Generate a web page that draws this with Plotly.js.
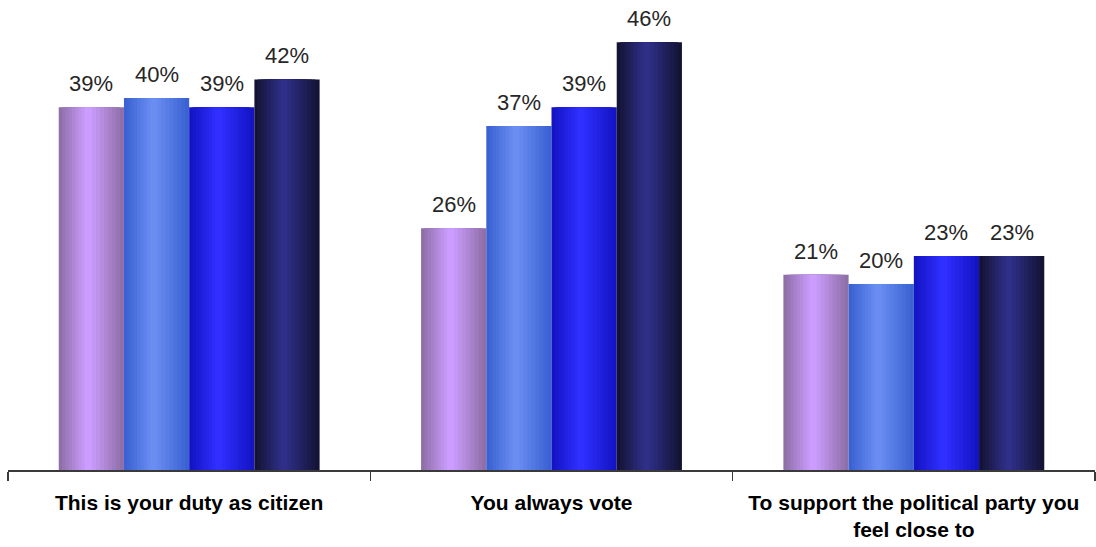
<!DOCTYPE html>
<html>
<head>
<meta charset="utf-8">
<script src="https://cdn.plot.ly/plotly-3.0.1.min.js"></script>
<style>html,body{margin:0;padding:0;background:#fff;}#chart{width:1096px;height:547px;}</style>
</head>
<body>
<div id="chart"></div>
<script>
// ---- data ----
const categories = ['This is your duty as citizen', 'You always vote', 'To support the political party you<br>feel close to'];
const series1 = [39, 26, 21];
const series2 = [40, 37, 20];
const series3 = [39, 39, 23];
const series4 = [42, 46, 23];
const seriesNames = ['Series 1', 'Series 2', 'Series 3', 'Series 4'];

// ---- styles ----
const allSeries = [series1, series2, series3, series4];
const edgeColors = ['#8f6fa8', '#3a62d2', '#1414c4', '#131336'];
const centerColors = ['#cc9dff', '#6a8df2', '#2f2fff', '#2f2f88'];
const BW = 0.18;           // bar width in category units
const LAYERS = 9;          // gradient steps
const PEAK = 0.45;         // relative position of lightest band

function hex2rgb(h){h=h.replace('#','');return [0,2,4].map(i=>parseInt(h.substr(i,2),16));}
function mix(a,b,t){const A=hex2rgb(a),B=hex2rgb(b);return 'rgb('+A.map((v,i)=>Math.round(v+(B[i]-v)*t)).join(',')+')';}

const traces = [];
const annotations = [];
allSeries.forEach((vals, s) => {
  const left = (s - 2) * BW;
  for (let k = 0; k < LAYERS; k++) {
    const f = 1 - k / LAYERS;           // width fraction
    const t = k / (LAYERS - 1);          // colour position
    const w = BW * f;
    const off = left + (1 - f) * BW * PEAK;
    traces.push({
      type: 'bar',
      x: categories,
      y: vals,
      name: seriesNames[s],
      showlegend: false,
      hoverinfo: 'skip',
      width: w,
      offset: off,
      marker: {color: mix(edgeColors[s], centerColors[s], t), line: {width: 0}}
    });
  }
  vals.forEach((v, i) => {
    annotations.push({
      x: i + left + BW / 2, y: v, xref: 'x', yref: 'y',
      text: v + '%', showarrow: false, yanchor: 'bottom', yshift: 9,
      font: {family: 'Liberation Sans, Arial, sans-serif', size: 22, color: '#262626'}
    });
  });
});

const layout = {
  width: 1096, height: 547,
  margin: {l: 8, r: 1, t: 5, b: 77},
  paper_bgcolor: '#ffffff', plot_bgcolor: '#ffffff',
  barmode: 'overlay',
  showlegend: false,
  xaxis: {
    type: 'category',
    tickson: 'boundaries',
    ticks: 'outside', ticklen: 9, tickwidth: 1.5, tickcolor: '#3a3a3a',
    showline: true, linecolor: '#3a3a3a', linewidth: 1.5,
    showgrid: false, zeroline: false,
    tickmode: 'array', tickvals: categories,
    ticktext: categories.map(c => '<b>' + c.replace('<br>', '</b><br><b>') + '</b>'),
    ticklabelstandoff: 13,
    tickfont: {family: 'Liberation Sans Narrow, Liberation Sans, Arial, sans-serif', size: 21, color: '#000000'},
    range: [-0.5, 2.5], fixedrange: true
  },
  yaxis: {
    range: [0, 50], visible: false, showgrid: false, zeroline: false, fixedrange: true
  },
  annotations: annotations
};

Plotly.newPlot('chart', traces, layout, {displayModeBar: false, staticPlot: true});
</script>
</body>
</html>
